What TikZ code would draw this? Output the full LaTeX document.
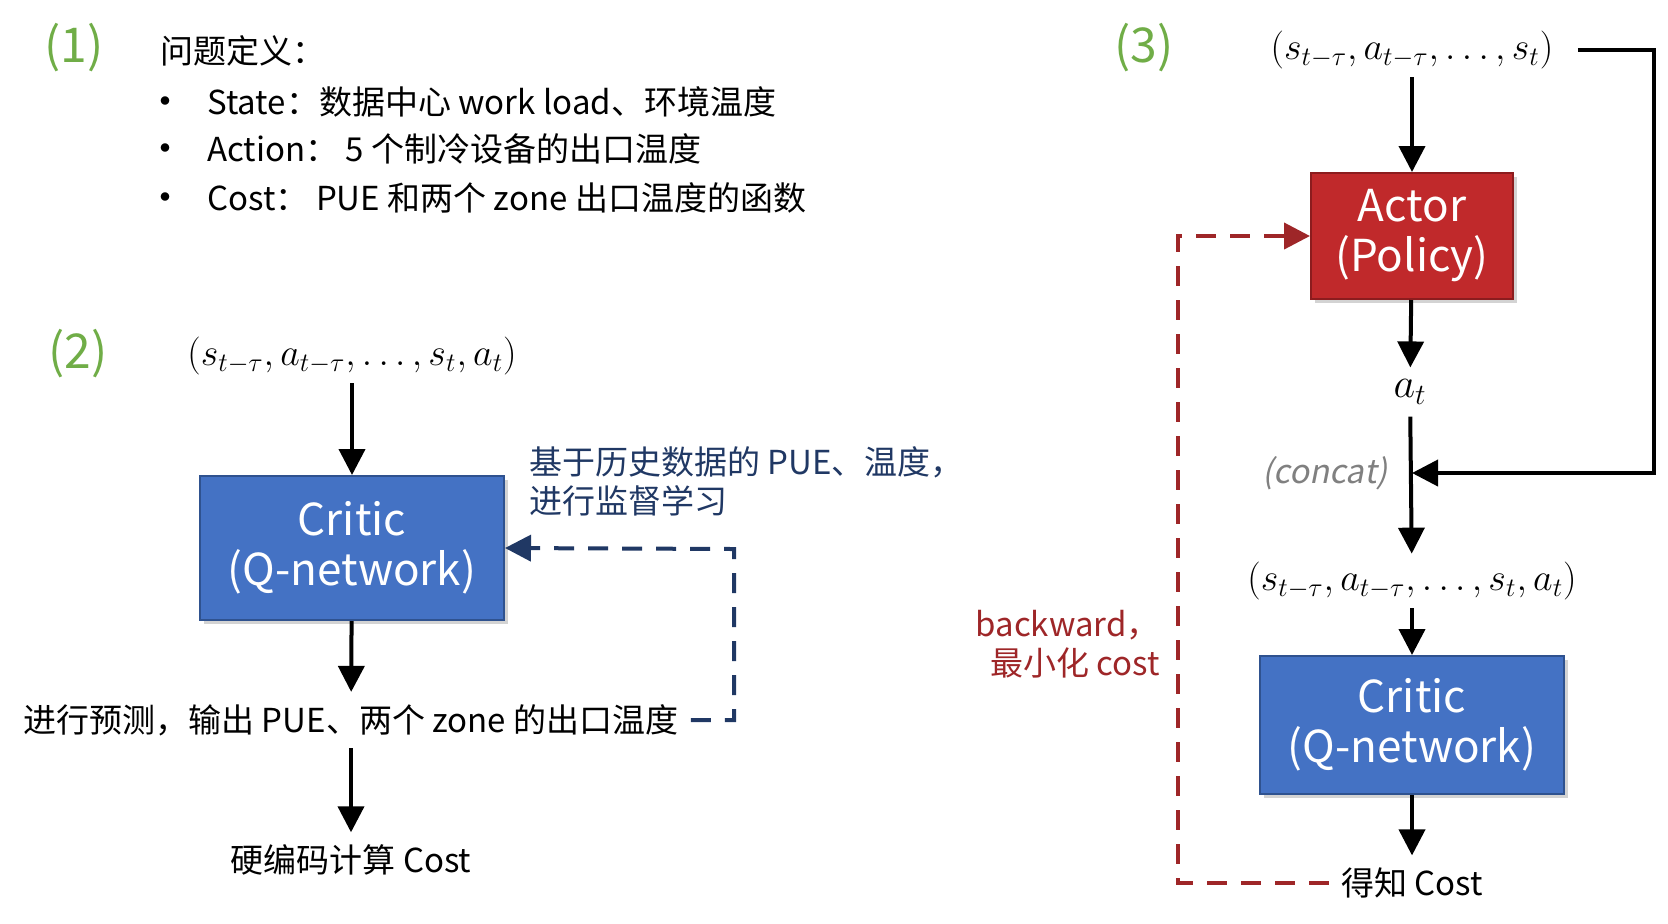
\documentclass[tikz,border=0pt]{standalone}
\usepackage{fix-cm}
\usepackage{fontspec}
\setmainfont{Noto Sans CJK SC}[AutoFakeSlant=0.2]
\usetikzlibrary{arrows.meta,positioning,shadows}
\definecolor{numgreen}{HTML}{70AD47}
\definecolor{critblue}{HTML}{4472C4}
\definecolor{critedge}{HTML}{2F528F}
\definecolor{actred}{HTML}{C0292B}
\definecolor{actedge}{HTML}{8C1C1E}
\definecolor{navy}{HTML}{203864}
\definecolor{backred}{HTML}{9E2628}
\definecolor{catgray}{HTML}{808080}

\begin{document}
\begin{tikzpicture}[x=0.5pt,y=-0.5pt,
  box/.style={draw,line width=1pt,text=white,align=center,
              font=\fontsize{22}{25}\selectfont,
              drop shadow={shadow xshift=2pt,shadow yshift=-2pt,opacity=.35}},
  crit/.style={box,fill=critblue,draw=critedge,minimum width=152pt,minimum height=72pt},
  act/.style={box,fill=actred,draw=actedge,minimum width=101pt,minimum height=63pt},
  tx/.style={font=\fontsize{16.5}{19.5}\selectfont,inner sep=6pt,align=left},
  mt/.style={font=\fontsize{19}{23}\selectfont,inner sep=4pt},
  num/.style={font=\fontsize{24}{28}\selectfont,text=numgreen},
  dotb/.style={font=\fontsize{11}{11}\selectfont,inner sep=2pt},
  ar/.style={-{Triangle[length=13pt,width=13pt]},line width=2pt},
  bdash/.style={ar,draw=navy,dash pattern=on 10pt off 7pt},
  rdash/.style={ar,draw=backred,dash pattern=on 10pt off 7pt},
]
\useasboundingbox (0,0) rectangle (1668,923);
% ============ (1) problem definition ============
\node[num] (n1) at (74,48) {(1)};
\node[tx,anchor=west] (def) at (148,51) {问题定义：};
\foreach \y/\t [count=\i] in {102/{State：数据中心 work load、环境温度},
                              149/{Action：\ 5 个制冷设备的出口温度},
                              198/{Cost：\ PUE 和两个 zone 出口温度的函数}} {
  \node[dotb] (dot\i) at (165,\y) {$\bullet$};
  \node[tx,anchor=west] (item\i) at (195,\y) {\t};
}
% ============ (2) supervised critic ============
\node[num] (n2) at (78,354) {(2)};
\node[mt] (tup2) at (352,356) {$(s_{t-\tau},a_{t-\tau},\ldots,s_t,a_t)$};
\node[crit] (crit2) at (352,548) {Critic\\(Q-network)};
\node[tx] (pred) at (351,720) {进行预测，输出 PUE、两个 zone 的出口温度};
\node[tx] (cost2) at (351,860) {硬编码计算 Cost};
\node[tx,text=navy,anchor=west] (sup) at (517,481)
  {基于历史数据的 PUE、温度，\\进行监督学习};
\coordinate (fb2) at (734,549);
\draw[ar] (tup2) -- (crit2);
\draw[ar] (crit2) -- (pred);
\draw[ar] (pred) -- (cost2);
\draw[bdash] (pred.east) -| (fb2) -- (crit2.east);
% ============ (3) actor-critic ============
\node[num] (n3) at (1144,48) {(3)};
\node[mt] (tup3) at (1412,50) {$(s_{t-\tau},a_{t-\tau},\ldots,s_t)$};
\node[act] (actor) at (1412,236) {Actor\\(Policy)};
\node[mt,inner sep=6pt,font=\fontsize{21}{24}\selectfont] (at) at (1410,392) {$a_t$};
\coordinate (join) at (1412,473);
\node[tx,text=catgray,inner sep=2pt,left=10pt of join] (cat) {\itshape (concat)};
\node[mt] (tup3b) at (1412,581) {$(s_{t-\tau},a_{t-\tau},\ldots,s_t,a_t)$};
\node[crit,minimum height=69pt] (crit3) at (1412,725) {Critic\\(Q-network)};
\node[tx] (cost3) at (1412,883) {得知 Cost};
\node[tx,text=backred,align=right,anchor=east] (back) at (1172,644)
  {backward，\\最小化 cost};
\coordinate (loopR) at (1654,473);
\coordinate (fb3) at (1178,236);
\draw[ar] (tup3) -- (actor);
\draw[ar] (actor) -- (at);
\draw[ar] (at) -- (tup3b);
\draw[ar,shorten <=8pt] (tup3.east) -| (loopR) -- (join);
\draw[ar] (tup3b) -- (crit3);
\draw[ar] (crit3) -- (cost3);
\draw[rdash] (cost3.west) -| (fb3) -- (actor.west);
\end{tikzpicture}
\end{document}
